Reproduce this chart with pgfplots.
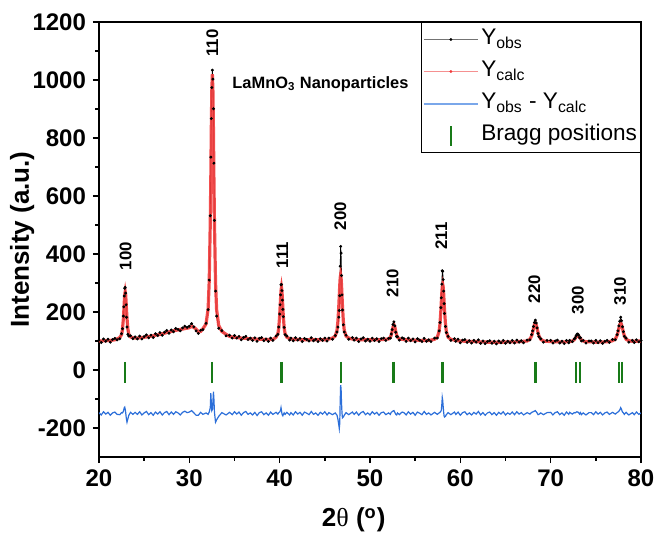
\documentclass[border=0pt]{standalone}
\usepackage{fontspec}
\setmainfont{Liberation Sans}
\newfontfamily\serifgreek{Liberation Serif}
\usepackage{pgfplots}
\usepackage{pgfplotstable}
\pgfplotsset{compat=1.18}
\definecolor{calccol}{HTML}{F23B3B}
\definecolor{calclight}{HTML}{F59090}
\definecolor{diffcol}{HTML}{2C6FD9}
\definecolor{difflight}{HTML}{7AA7EA}
\definecolor{braggcol}{HTML}{187A18}

% 2theta, Ycalc, Yobs, Yobs-Ycalc (offset -150)
\pgfplotstableread{
x calc obs diff
20.00 100 103 -147
20.25 100 95 -155
20.50 101 107 -144
20.75 101 99 -152
21.00 102 106 -146
21.25 102 96 -156
21.50 103 105 -148
21.75 104 109 -145
22.00 107 104 -153
22.30 112 108 -154
22.50 122 125 -147
22.60 140 142 -148
22.70 178 186 -142
22.75 204 218 -136
22.80 235 255 -130
22.85 260 282 -128
22.90 270 285 -135
22.95 260 265 -145
23.00 235 225 -160
23.05 204 182 -172
23.10 178 148 -180
23.20 141 123 -168
23.30 123 117 -156
23.50 114 118 -146
23.75 111 108 -153
24.00 110 114 -146
24.25 110 107 -153
24.50 111 117 -144
24.75 112 107 -155
25.00 113 115 -148
25.25 114 121 -143
25.50 115 111 -154
25.75 117 120 -147
26.00 118 112 -156
26.25 120 125 -145
26.50 121 119 -152
26.75 123 129 -144
27.00 125 120 -155
27.25 127 130 -147
27.50 129 136 -143
27.75 131 127 -154
28.00 133 138 -145
28.25 135 132 -153
28.50 137 143 -144
28.75 138 140 -148
29.00 140 135 -155
29.25 141 145 -146
29.50 143 151 -142
29.75 144 147 -147
30.00 146 151 -145
30.25 150 160 -140
30.50 147 149 -148
30.75 141 135 -156
31.00 132 126 -156
31.25 133 137 -146
31.50 142 139 -153
31.85 159 161 -148
32.08 211 208 -153
32.20 305 310 -145
32.32 512 532 -130
32.38 664 734 -80
32.43 827 867 -110
32.49 964 974 -140
32.55 1020 1034 -136
32.61 963 1003 -110
32.67 826 901 -75
32.72 663 713 -100
32.78 511 516 -145
32.90 302 272 -180
33.02 208 186 -172
33.25 154 144 -160
33.60 133 136 -147
34.07 123 118 -155
34.45 116 120 -146
34.75 114 110 -154
35.00 113 119 -144
35.25 112 110 -152
35.50 111 116 -145
35.75 110 104 -156
36.00 109 112 -147
36.25 109 116 -143
36.50 108 105 -153
36.75 108 110 -148
37.00 107 102 -155
37.25 107 111 -146
37.50 106 99 -157
37.75 106 109 -147
38.00 106 112 -144
38.25 105 101 -154
38.50 105 107 -148
38.75 105 99 -156
39.00 105 110 -145
39.25 105 102 -153
39.60 113 117 -146
39.80 125 123 -152
39.90 145 148 -147
40.00 188 193 -145
40.05 217 225 -142
40.10 247 259 -138
40.15 274 294 -130
40.20 285 295 -140
40.25 274 274 -150
40.30 247 241 -156
40.35 217 209 -158
40.40 188 184 -154
40.50 145 147 -148
40.60 125 122 -153
40.80 113 117 -146
41.10 108 103 -155
41.25 107 110 -147
41.50 106 101 -155
41.75 105 111 -144
42.00 105 103 -152
42.25 105 109 -146
42.50 104 98 -156
42.75 104 109 -145
43.00 104 105 -149
43.25 104 100 -154
43.50 104 111 -143
43.75 104 101 -153
44.00 104 106 -148
44.25 104 98 -156
44.50 104 108 -146
44.75 104 102 -152
45.00 104 110 -144
45.25 105 100 -155
45.45 107 110 -147
45.85 110 106 -154
46.15 117 119 -148
46.35 137 131 -156
46.45 168 148 -170
46.55 222 182 -190
46.60 257 205 -202
46.65 291 256 -185
46.70 318 358 -110
46.75 328 426 -52
46.80 318 403 -65
46.85 291 326 -115
46.90 257 259 -148
46.95 222 207 -165
47.05 168 156 -162
47.15 137 131 -156
47.35 117 120 -147
47.65 110 106 -154
48.05 107 112 -145
48.25 106 103 -153
48.50 105 110 -145
48.75 104 98 -156
49.00 104 107 -147
49.25 104 111 -143
49.50 104 100 -154
49.75 104 106 -148
50.00 104 99 -155
50.25 104 110 -144
50.50 104 102 -152
50.75 104 108 -146
51.00 104 98 -156
51.25 105 108 -147
51.50 105 110 -145
51.75 106 102 -154
52.05 107 109 -148
52.25 113 110 -153
52.35 120 124 -146
52.45 133 139 -144
52.55 148 157 -141
52.65 156 166 -140
52.75 148 152 -146
52.85 133 130 -153
52.95 120 115 -155
53.05 113 115 -148
53.25 107 103 -154
53.55 106 111 -145
53.75 105 108 -147
54.00 104 99 -155
54.25 104 110 -144
54.50 103 101 -152
54.75 103 107 -146
55.00 103 97 -156
55.25 103 108 -145
55.50 102 103 -149
55.75 102 98 -154
56.00 102 109 -143
56.25 102 99 -153
56.50 102 104 -148
56.75 103 98 -155
57.15 106 110 -146
57.45 113 110 -153
57.65 133 135 -148
57.75 160 164 -146
57.85 207 215 -142
57.90 237 249 -138
57.95 266 296 -120
58.00 287 342 -95
58.05 295 340 -105
58.10 287 312 -125
58.15 266 272 -144
58.20 237 229 -158
58.25 207 195 -162
58.35 160 150 -160
58.45 133 129 -154
58.65 113 116 -147
58.95 106 102 -154
59.35 103 108 -145
59.50 102 99 -153
59.75 101 106 -145
60.00 100 94 -156
60.25 100 103 -147
60.50 99 105 -144
60.75 99 95 -154
61.00 99 101 -148
61.25 98 93 -155
61.50 98 102 -146
61.75 98 96 -152
62.00 97 104 -143
62.25 97 92 -155
62.50 97 100 -147
62.75 97 91 -156
63.00 96 98 -148
63.25 96 101 -145
63.50 96 92 -154
63.75 96 99 -147
64.00 96 90 -156
64.25 96 100 -146
64.50 96 94 -152
64.75 96 102 -144
65.00 97 92 -155
65.25 97 99 -148
65.50 97 94 -153
65.75 97 102 -145
66.00 97 93 -154
66.25 97 103 -144
66.50 98 96 -152
66.75 98 101 -147
67.00 99 94 -155
67.40 100 103 -147
67.70 106 104 -152
67.90 118 122 -146
68.00 130 135 -145
68.10 143 150 -143
68.20 156 164 -142
68.30 162 172 -140
68.40 156 162 -144
68.50 143 145 -148
68.60 130 126 -154
68.70 118 115 -153
68.90 106 108 -148
69.20 100 96 -154
69.60 99 102 -147
70.00 98 102 -146
70.25 98 93 -155
70.50 97 100 -147
70.75 97 103 -144
71.00 97 93 -154
71.25 97 99 -148
71.50 97 91 -156
71.75 97 102 -145
72.00 97 94 -153
72.10 98 102 -146
72.40 100 98 -152
72.60 104 107 -147
72.70 108 110 -148
72.80 113 117 -146
72.90 117 123 -144
73.00 119 124 -145
73.10 117 120 -147
73.20 113 111 -152
73.30 108 111 -147
73.40 104 100 -154
73.60 100 102 -148
73.90 98 93 -155
74.25 97 100 -147
74.50 97 100 -147
74.75 97 93 -154
75.00 96 102 -144
75.25 96 94 -152
75.50 97 101 -146
75.75 97 92 -155
76.00 97 99 -148
76.25 97 102 -145
76.50 98 95 -153
76.85 101 105 -146
77.15 106 104 -152
77.35 119 122 -147
77.45 130 135 -145
77.55 144 152 -142
77.65 156 168 -138
77.75 162 182 -130
77.85 156 170 -136
77.95 144 149 -145
78.05 130 132 -148
78.15 119 116 -153
78.35 106 110 -146
78.65 101 96 -155
79.05 99 102 -147
79.25 99 95 -154
79.50 99 104 -145
79.75 100 97 -153
80.00 100 102 -148
}\xrd

\pgfplotstableread{
x y
22.90 -8
32.55 -8
40.20 -8
46.75 -8
52.60 -8
52.70 -8
58.00 -8
58.10 -8
68.22 -8
68.38 -8
72.85 -8
73.20 -8
77.55 -8
77.92 -8
}\bragg

\begin{document}
\begin{tikzpicture}
\begin{axis}[
  scale only axis, width=271pt, height=217.5pt,
  xmin=20, xmax=80, ymin=-300, ymax=1200,
  xtick={20,30,...,80}, ytick={-200,0,...,1200},
  minor tick num=1,
  tick align=outside, xtick pos=left, ytick pos=left,
  major tick length=3pt, minor tick length=1.8pt,
  axis line style={line width=0.9pt},
  every tick/.style={black, line width=0.8pt},
  /pgf/number format/assume math mode=true,
  /pgf/number format/1000 sep={},
  tick label style={font=\bfseries\fontsize{12}{13}\selectfont},
  xlabel={\textbf{2}{\serifgreek\mdseries θ} \textbf{(\textsuperscript{o})}},
  ylabel={Intensity (a.u.)},
  label style={font=\bfseries\fontsize{13}{14}\selectfont},
  xlabel style={at={(axis description cs:0.47,-0.145)}, anchor=center},
  ylabel style={at={(axis description cs:-0.142,0.5)}, anchor=center},
  legend style={at={(rel axis cs:1,1)}, anchor=north east, draw=black,
    line width=0.5pt, inner sep=0.5pt,
    font=\fontsize{11.3}{13}\selectfont,
    nodes={inner xsep=1.2pt, inner ysep=1.5pt, text height=9pt, text depth=4pt}},
  legend cell align=left,
]
\addplot[black, line width=0.35pt, mark=*, mark size=0.55pt,
  legend image code/.code={\draw[black!55, line width=0.4pt] (0pt,0pt) -- (27pt,0pt);
    \fill[black, line width=0.2pt] (13.5pt,0pt) circle[radius=0.6pt];}]
  table[x=x, y=obs] {\xrd};
\addlegendentry{Y\textsubscript{obs}}
\addplot[calccol, line width=1.6pt, opacity=0.9,
  legend image code/.code={\draw[calclight, line width=0.5pt, opacity=1] (0pt,0pt) -- (27pt,0pt);
    \fill[calccol, line width=0.2pt, opacity=1] (13.5pt,0pt) circle[radius=0.6pt];}]
  table[x=x, y=calc] {\xrd};
\addlegendentry{Y\textsubscript{calc}}
\addplot[diffcol, line width=0.6pt,
  legend image code/.code={\draw[difflight, line width=1pt] (0pt,0pt) -- (27pt,0pt);}]
  table[x=x, y=diff] {\xrd};
\addlegendentry{Y\textsubscript{obs} - Y\textsubscript{calc}}
\addplot[braggcol, only marks, mark=|, mark size=5.2pt, mark options={line width=1.05pt},
  legend image code/.code={\draw[braggcol, line width=0.9pt] (13.5pt,-5pt) -- (13.5pt,5pt);}]
  table[x=x, y=y] {\bragg};
\addlegendentry{Bragg positions}

\begin{scope}[every node/.style={rotate=90, font=\bfseries\fontsize{8.4}{10}\selectfont}]
\node at (axis cs:22.95,393) {100};
\node at (axis cs:32.55,1128) {110};
\node at (axis cs:40.3,396) {111};
\node at (axis cs:46.72,531) {200};
\node at (axis cs:52.5,300) {210};
\node at (axis cs:57.9,462) {211};
\node at (axis cs:68.2,279) {220};
\node at (axis cs:73.0,241) {300};
\node at (axis cs:77.7,272) {310};
\end{scope}
\node[anchor=west, font=\bfseries\fontsize{8.2}{10}\selectfont, inner sep=0pt]
  at (axis cs:34.73,986) {LaMnO\textsubscript{3} Nanoparticles};

\coordinate (bbsw) at (rel axis cs:-0.18266,-0.18391);
\coordinate (bbne) at (rel axis cs:1.02399,1.05057);
\end{axis}
\pgfresetboundingbox
\useasboundingbox (bbsw) rectangle (bbne);
\end{tikzpicture}
\end{document}
